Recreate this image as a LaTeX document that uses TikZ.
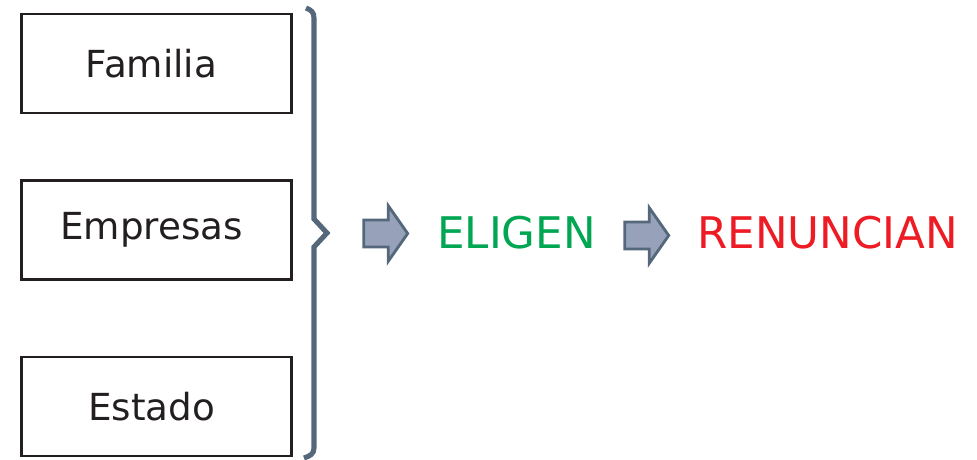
\documentclass[tikz,border=0pt]{standalone}
\usepackage{fontspec}
\setmainfont{DejaVu Sans}
\usetikzlibrary{shapes.arrows}
\definecolor{boxline}{HTML}{231F20}
\definecolor{bracecol}{HTML}{54677B}
\definecolor{arrowfill}{HTML}{97A2BA}
\definecolor{verde}{HTML}{00A651}
\definecolor{rojo}{HTML}{ED1C24}
\tikzset{
  itembox/.style={draw=boxline, line width=2pt, minimum width=6.75cm, minimum height=2.475cm, inner sep=0pt, font=\fontsize{26.5}{30}\selectfont, text=boxline},
  bigarrow/.style={single arrow, draw=bracecol, fill=arrowfill, line width=2pt, minimum height=1.1cm, inner xsep=0pt, inner ysep=0.3cm, single arrow head extend=0.36cm, single arrow tip angle=110},
  word/.style={font=\fontsize{31}{36}\selectfont, inner sep=0pt}
}
\begin{document}
\begin{tikzpicture}[x=0.025cm, y=-0.025cm]
      \useasboundingbox (0,0) rectangle (977,459);
      \foreach \n/\y/\t in {familia/63.5/Familia, empresas/230/Empresas, estado/406.5/Estado}{
        \node[itembox](\n) at(156.5, \y) {\t\hspace*{0.25cm}};
      }
      \draw[bracecol, line width=3.6pt, line join=miter]
        (306,8) .. controls (311,10) and (314,12) .. (314,18)
        -- (314,219) -- (327,233) -- (314,247) -- (314,448)
        .. controls (314,454) and (310,456) .. (304,458);
      \node[bigarrow](A1) at(381, 233.5) {};
      \node[word, text=verde](eligen) at(516.5, 233) {ELIGEN};
      \node[bigarrow](A2) at(642, 235.5) {};
      \node[word, text=rojo](renuncian) at(827.5, 233) {RENUNCIAN};
    \end{tikzpicture}
\end{document}
